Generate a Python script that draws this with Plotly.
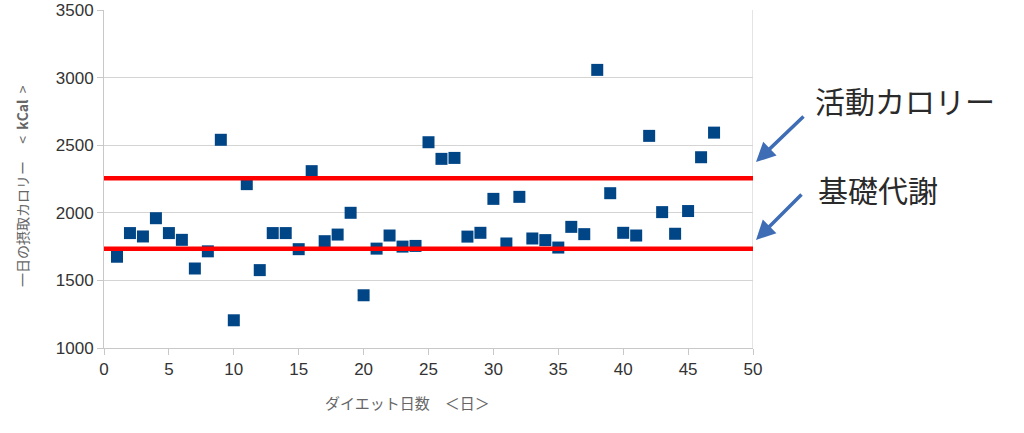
import plotly.graph_objects as go

days = list(range(1, 48))
intake = [1675, 1850, 1825, 1960, 1850, 1800, 1588, 1715, 2540, 1205,
          2212, 1576, 1850, 1850, 1731, 2308, 1790, 1839, 2000, 1390,
          1735, 1832, 1750, 1755, 2522, 2399, 2406, 1824, 1852, 2103,
          1773, 2118, 1810, 1798, 1743, 1896, 1842, 3057, 2145, 1852,
          1832, 2569, 2005, 1845, 2013, 2411, 2593]
active_kcal = 2255
basal_kcal = 1735

x_ticks = [0, 5, 10, 15, 20, 25, 30, 35, 40, 45, 50]
y_ticks = [1000, 1500, 2000, 2500, 3000, 3500]

label_active = "活動カロリー"
label_basal = "基礎代謝"
x_title = "ダイエット日数　＜日＞"
y_title = "一日の摂取カロリー　 &lt;  <b>kCal</b>  &gt;"

FONT = "Noto Sans CJK JP"

fig = go.Figure()
fig.add_trace(go.Scatter(
    x=days, y=intake, mode="markers",
    marker=dict(symbol="square", size=12, color="#004586"),
    showlegend=False, hoverinfo="x+y"))

for v in (active_kcal, basal_kcal):
    fig.add_shape(type="line", xref="x", yref="y", x0=0, x1=50, y0=v, y1=v,
                  line=dict(color="#ff0000", width=4.5), layer="above")

fig.update_layout(
    width=1024, height=433,
    margin=dict(l=104, r=271, t=10, b=85, autoexpand=False),
    plot_bgcolor="white", paper_bgcolor="white",
    font=dict(family=FONT, color="#333333"),
    xaxis=dict(range=[0, 50], tickvals=x_ticks, showgrid=False,
               showline=True, linecolor="#c8c8c8", linewidth=1,
               ticks="outside", ticklen=6, tickcolor="#c8c8c8",
               tickfont=dict(family="Liberation Sans", size=17, color="#333333"),
               mirror=False, zeroline=False, automargin=False),
    yaxis=dict(range=[1000, 3500], tickvals=y_ticks, showgrid=True,
               gridcolor="#d4d4d4", gridwidth=1,
               showline=True, linecolor="#c8c8c8", linewidth=1,
               ticks="outside", ticklen=6, tickcolor="#c8c8c8",
               tickfont=dict(family="Liberation Sans", size=17, color="#333333"),
               zeroline=False, automargin=False),
)

# right border line of plot area
fig.add_shape(type="line", xref="x", yref="y", x0=50, x1=50, y0=1000, y1=3500,
              line=dict(color="#c8c8c8", width=1), layer="below")

# axis titles
fig.add_annotation(xref="paper", yref="paper", x=(407 - 104) / 649, y=-(402 - 348) / 338,
                   text=x_title, showarrow=False, xanchor="center", yanchor="middle",
                   font=dict(family=FONT, size=15, color="#666666"))
fig.add_annotation(xref="paper", yref="paper", x=-(104 - 22) / 649, y=(348 - 186) / 338,
                   text=y_title, showarrow=False, textangle=-90,
                   xanchor="center", yanchor="middle",
                   font=dict(family=FONT, size=14, color="#666666"))

# side labels with arrows
fig.add_annotation(xref="paper", yref="paper", x=(905 - 104) / 649, y=(348 - 100) / 338,
                   text=label_active, showarrow=False, xanchor="center", yanchor="middle",
                   font=dict(family=FONT, size=30, color="#2a2a2a"))
fig.add_annotation(xref="paper", yref="paper", x=(878 - 104) / 649, y=(348 - 189) / 338,
                   text=label_basal, showarrow=False, xanchor="center", yanchor="middle",
                   font=dict(family=FONT, size=30, color="#2a2a2a"))

for (x0, y0, x1, y1) in [(805, 115, 756, 162), (803, 193, 756, 240)]:
    fig.add_annotation(xref="paper", yref="paper",
                       x=(x1 - 104) / 649, y=(348 - y1) / 338,
                       ax=x0 - x1, ay=y0 - y1,
                       text="", showarrow=True, arrowhead=2, arrowsize=1.1,
                       arrowwidth=3.5, arrowcolor="#3e6db5")

fig.write_html("out.html")
